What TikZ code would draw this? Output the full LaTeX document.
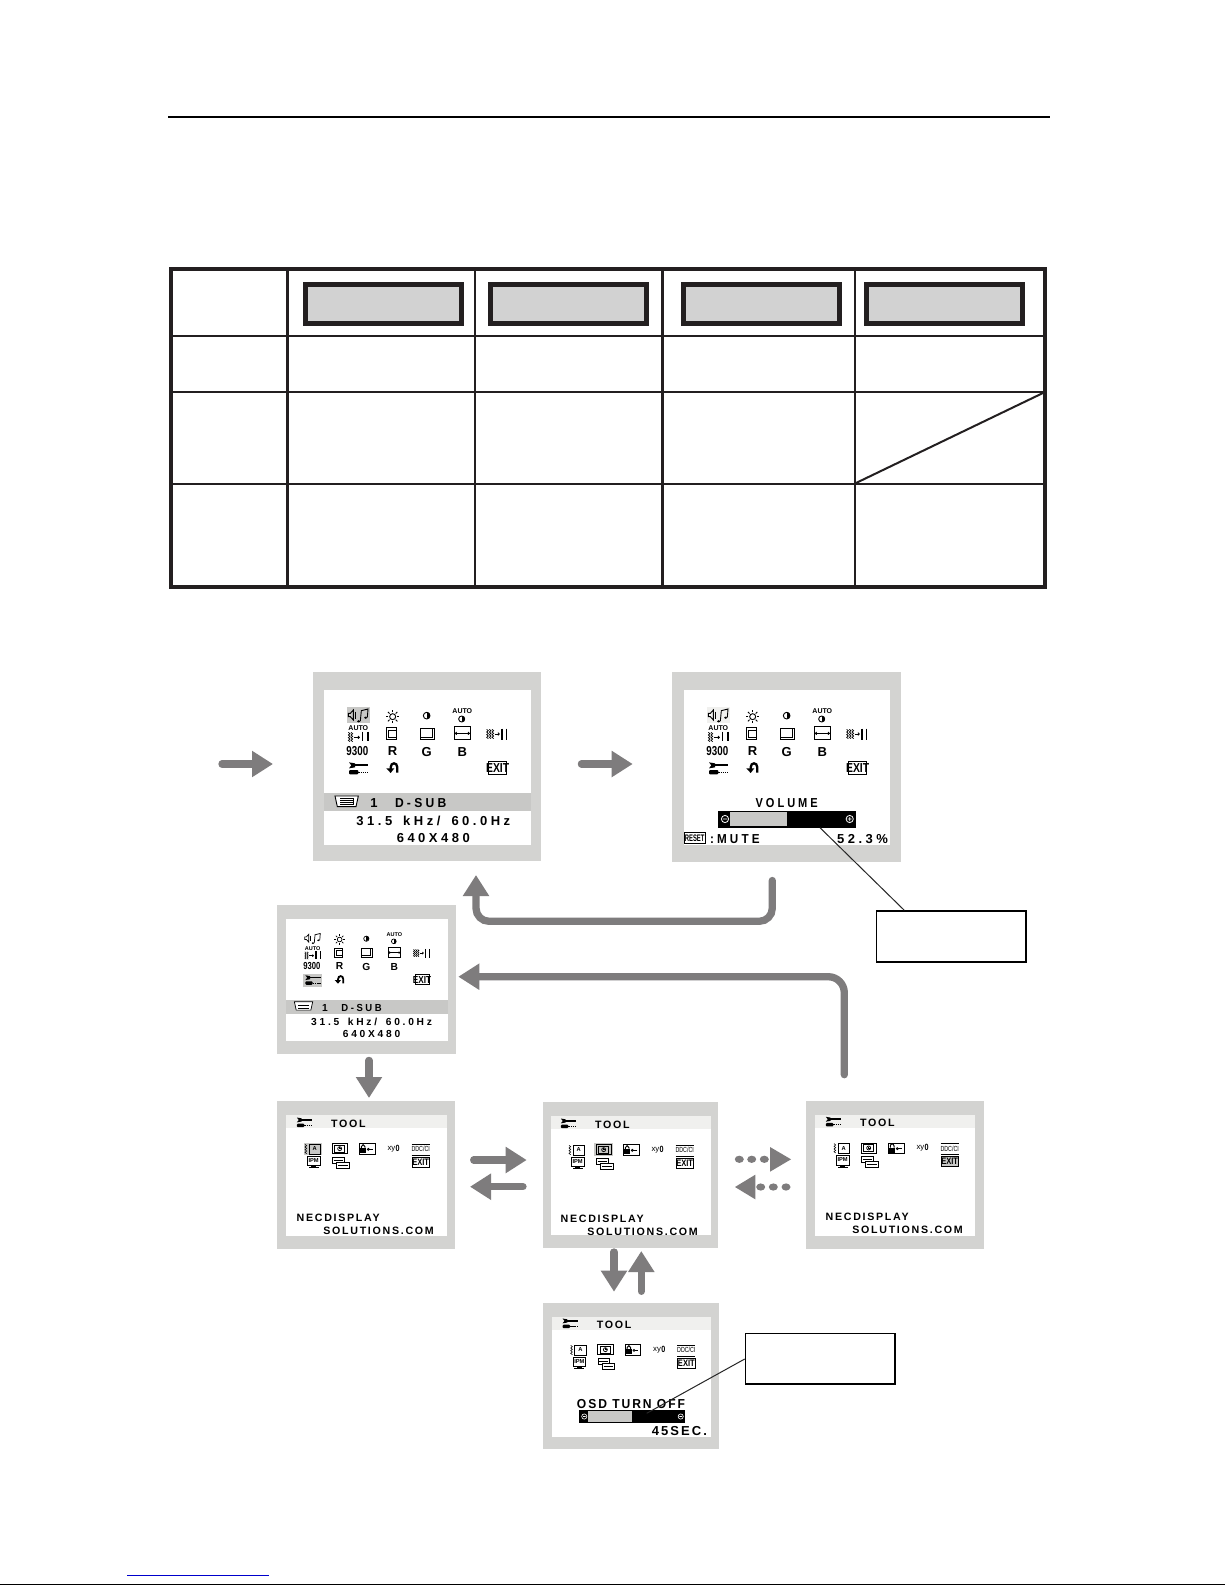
\documentclass[tikz,border=0pt]{standalone}
\usepackage{fontspec}
\usetikzlibrary{arrows.meta}
\setmainfont{Liberation Sans}
\newfontfamily\osdw[LetterSpace=27]{Liberation Sans}
\newfontfamily\osdn[LetterSpace=16]{Liberation Sans}
\newfontfamily\osdp{Liberation Sans}
\definecolor{ink}{HTML}{231F20}
\definecolor{arr}{HTML}{7E7C7D}
\definecolor{pgrey}{HTML}{D3D3D1}
\definecolor{hgrey}{HTML}{C8C8C6}
\definecolor{lbar}{HTML}{F0F0EE}
\definecolor{boxgrey}{HTML}{D2D2D2}
\newcount\nodecnt
\def\curs{1}
\tikzset{
  autoname/.style={/utils/exec={\global\advance\nodecnt by 1},name=n\the\nodecnt},
  txt/.style={autoname,inner sep=0pt,outer sep=0pt,text=black,scale=\curs},
  osdwide/.style={txt,font=\osdw\bfseries\fontsize{13}{13}\selectfont},
  osdnarrow/.style={txt,font=\osdn\bfseries\fontsize{13}{13}\selectfont},
  osdplain/.style={txt,font=\osdp\bfseries\fontsize{13}{13}\selectfont},
  osdtiny/.style={txt,font=\osdp\bfseries\fontsize{7}{7}\selectfont},
  ln/.style={line width=\curs*0.9pt,draw=black},
  panel/.style={fill=pgrey,draw=none,inner sep=0pt,outer sep=0pt,anchor=north west},
  screen/.style={fill=white,draw=none,inner sep=0pt,outer sep=0pt,anchor=north west},
  block/.style={draw=arr,line width=7.3pt,line cap=round,-{Triangle[length=21pt,width=25pt,fill=arr]}},
  headonly/.style={fill=arr,draw=none},
  callout/.style={draw=black,line width=1.6pt,fill=white,inner sep=0pt,outer sep=0pt,anchor=north west},
  leader/.style={draw=black!85,line width=1pt},
  headbox/.style={draw=ink,line width=5pt,fill=boxgrey,inner sep=0pt,outer sep=0pt,anchor=north west,minimum width=156pt,minimum height=39pt},
  tline/.style={draw=ink}
}
\newcommand\wig[3]{\draw[ln,line width=\curs*0.7pt] (#1,#2) -- ++(5,4) -- ++(-5,4) -- ++(5,4) -- ++(-5,4) -- ++(5,4) -- ++(-5,4) -- ++(5,4);}
\newcommand\wrenchic[2]{\begin{scope}[shift={#1},scale=#2]
  \fill (-12,-12) rectangle (30,-6);
  \fill (-28,-18) -- (-10,-15) -- (-10,-3) -- (-28,0) -- (-21,-9) -- cycle;
  \fill[rounded corners=1pt] (-28,5) rectangle (0,18);
  \draw[line width=\curs*1.2pt,dash pattern=on 1.5pt off 0.7pt] (0,12) -- (30,12);
\end{scope}}
\newcommand\contrastic[3]{\draw[ln] (#1,#2) circle (#3);
  \fill (#1,{#2-#3}) .. controls ({#1+1.33*#3},{#2-#3}) and ({#1+1.33*#3},{#2+#3}) .. (#1,{#2+#3}) -- cycle;}
\newcommand\mainicons[4]{\begin{scope}[shift={(#1,#2)}]
  \def\curs{#3}\pgfmathsetmacro\curu{#3/3}
  \begin{scope}[x=\curu pt,y=-\curu pt]
  #4
  % speaker + notes
  \draw[ln] (145,160) -- (151,160) -- (160,150) -- (160,180) -- (151,170) -- (145,170) -- cycle;
  \draw[ln] (167,155) -- (167,176);
  \draw[ln] (181,183) -- (184,152) -- (204,147) -- (202,172);
  \fill (176,184) ellipse (5 and 3.5);
  \fill (197,173) ellipse (5 and 3.5);
  % sun
  \draw[ln] (278,170) circle (9);
  \foreach \a in {0,45,...,315}{\draw[ln] (278,170) ++(\a:13) -- ++(\a:7);}
  % contrast
  \contrastic{380}{167}{10}
  \node[osdtiny] at (487,153) {AUTO};
  \contrastic{485}{177}{9}
  % row 2
  \node[osdtiny] at (175,205) {AUTO};
  \wig{145}{217}{0}\wig{153}{217}{0}
  \draw[ln] (161,232) -- (178,232); \draw[ln] (174,228) -- (178,232) -- (174,236);
  \draw[line width=\curs*1.6pt] (188,215) -- (188,243) (204,215) -- (204,243);
  \draw[ln] (258,203) rectangle (290,238);
  \draw[ln] (266,211) rectangle (290,232);
  \draw[ln] (360,204) rectangle (403,238);
  \draw[ln] (360,232) -- (397,232) -- (397,204);
  \draw[ln] (464,200) rectangle (510,238);
  \draw[ln] (464,220) -- (510,220);
  \draw[ln] (470,216) -- (466,220) -- (470,224) (504,216) -- (508,220) -- (504,224);
  \wig{560}{208}{0}\wig{568}{208}{0}\wig{576}{208}{0}
  \draw[ln] (584,222) -- (598,222); \draw[ln] (594,218) -- (598,222) -- (594,226);
  \draw[line width=\curs*1.6pt] (606,206) -- (606,240) (620,206) -- (620,240);
  % row 3
  \node[osdplain,xscale=0.75] at (172,273) {9300};
  \node[osdplain] at (278,273) {R};
  \node[osdplain] at (380,275) {G};
  \node[osdplain] at (487,275) {B};
  % row 4
  \wrenchic{(175,325)}{1}
  \draw[line width=\curs*2.3pt] (292,338) -- (292,322) .. controls (292,306) and (272,306) .. (272,322) -- (272,327);
  \fill (259,325) -- (283,325) -- (272,339) -- cycle;
  \draw[ln] (566,305) rectangle (620,342);
  \node[osdplain,xscale=0.8] at (593,324) {EXIT};
  \end{scope}
\end{scope}}
\newcommand\dsubinfo[3]{\begin{scope}[shift={(#1,#2)}]
  \def\curs{#3}\pgfmathsetmacro\curu{#3/3}
  \begin{scope}[x=\curu pt,y=-\curu pt]
  \draw[ln,fill=white] (105,408) -- (175,408) -- (168,440) -- (112,440) -- cycle;
  \fill[black] (119,415) rectangle (161,434);
  \foreach \yy in {419,424,429}{\draw[white,line width=\curs*0.5pt] (120,\yy) -- (160,\yy);}
  \node[osdwide] at (222,430) {1};
  \node[osdwide,anchor=west,xscale=0.93] at (285,430) {D-SUB};
  \node[osdwide] at (400,484) {31.5\hspace{11pt}kHz/\hspace{11pt}60.0Hz};
  \node[osdwide] at (400,533) {640X480};
  \end{scope}
\end{scope}}
\newcommand\toolicons[5]{\begin{scope}[shift={(#1,#2)}]
  \def\curs{0.82}\pgfmathsetmacro\curu{1/3}
  \begin{scope}[x=\curu pt,y=-\curu pt]
  #3
  \wrenchic{(103,82)}{0.8}
  \node[osdnarrow] at (235,85) {TOOL};
  % wave + AB
  \wig{105}{148}{0}
  \draw[ln] (117,147) rectangle (152,177);
  \node[osdtiny] at (134,162) {A};
  % clock
  \draw[ln] (186,146) rectangle (232,176);
  \draw[ln] (194,151) rectangle (224,171);
  \draw[ln] (209,161) circle (6);
  \draw[ln,line width=\curs*0.5pt] (209,157) -- (209,161) -- (213,161);
  % lock
  \draw[ln] (268,146) rectangle (315,178);
  \fill (271,160) rectangle (288,175);
  \draw[line width=\curs*1.2pt] (274,160) -- (274,155) .. controls (274,147) and (285,147) .. (285,155) -- (285,160);
  \draw[ln] (295,163) circle (3); \draw[ln] (298,163) -- (308,163);
  % xy0
  \node[txt,font=\osdp\fontsize{9.5}{9.5}\selectfont,anchor=east] at (376,162) {xy};
  \node[txt,font=\osdp\bfseries\fontsize{11}{11}\selectfont,xscale=0.8,anchor=west] at (377,160) {0};
  % DDC/CI
  \draw[ln] (425,147) -- (479,147) (425,180) -- (479,180);
  \node[osdplain,font=\osdp\fontsize{9}{9}\selectfont,xscale=0.72] at (452,163) {DDC/CI};
  % monitor
  \draw[ln,fill=white] (112,183) rectangle (150,212);
  \node[osdtiny] at (131,197) {IPM};
  \fill (124,212) rectangle (138,217); \fill (116,217) rectangle (146,220);
  % position
  \draw[ln] (187,186) rectangle (222,205);
  \draw[ln,fill=white] (200,201) rectangle (237,220);
  \draw[ln,line width=\curs*0.5pt] (191,195) -- (218,195) (204,211) -- (233,211);
  % exit
  \draw[ln,fill=#4] (426,187) rectangle (478,217);
  \node[osdplain,font=\osdp\bfseries\fontsize{11.5}{11.5}\selectfont,xscale=0.8] at (452,202) {EXIT};
  #5
  \end{scope}
\end{scope}}
\newcommand\necfoot{\node[osdnarrow,anchor=west] at (80,367) {NECDISPLAY};
  \node[osdnarrow,anchor=west] at (160,407) {SOLUTIONS.COM};}
\begin{document}
\begin{tikzpicture}[x=1pt,y=-1pt]
\useasboundingbox (0,0) rectangle (1225,1585);
\fill[white] (0,0) rectangle (1225,1585);
% page furniture
\draw[draw=black,line width=1.8pt] (168,116.7) -- (1050,116.7);
\draw[draw=blue!80!black,line width=1pt] (127,1575) -- (269,1575);
\draw[draw=black,line width=1pt] (0,1584.5) -- (1225,1584.5);
% table
\draw[tline,line width=2pt] (171,336) -- (1045,336) (171,392) -- (1045,392) (171,484) -- (1045,484);
\draw[tline,line width=2.6pt] (287.3,269) -- (287.3,587);
\draw[tline,line width=1.6pt] (475,269) -- (475,587);
\draw[tline,line width=2.8pt] (662.8,269) -- (662.8,587);
\draw[tline,line width=1.8pt] (855,269) -- (855,587);
\draw[tline,line width=2pt] (856,483) -- (1044,392.5);
\draw[tline,line width=3.9pt] (171,269) rectangle (1045,587);
\node[headbox] (h1) at (305.5,284.5) {};
\node[headbox] (h2) at (490.5,284.5) {};
\node[headbox] (h3) at (683.5,284.5) {};
\node[headbox] (h4) at (866.5,284.5) {};
% panels
\node[panel,minimum width=228pt,minimum height=188.5pt] (pA) at (313,672.3) {};
\node[screen,minimum width=207pt,minimum height=155pt] (sA) at (324,690) {};
\fill[hgrey] (324,793.3) rectangle (531,811);
\node[panel,minimum width=228.5pt,minimum height=189.5pt] (pB) at (672.3,672.3) {};
\node[screen,minimum width=206pt,minimum height=155pt] (sB) at (684,690) {};
\node[panel,minimum width=179.3pt,minimum height=149pt] (pC) at (276.7,905) {};
\node[screen,minimum width=162.6pt,minimum height=121.7pt] (sC) at (285.7,919) {};
\fill[hgrey] (285.7,1000) rectangle (448.3,1014);
\node[panel,minimum width=178.3pt,minimum height=148pt] (pD) at (276.7,1101) {};
\node[screen,minimum width=161.3pt,minimum height=120.7pt] (sD) at (286,1115) {};
\fill[lbar] (286,1115) rectangle (447.3,1128.3);
\node[panel,minimum width=175.6pt,minimum height=146pt] (pE) at (542.7,1102.3) {};
\node[screen,minimum width=159.7pt,minimum height=119.3pt] (sE) at (551,1115.7) {};
\fill[lbar] (551,1115.7) rectangle (710.7,1128.5);
\node[panel,minimum width=178pt,minimum height=148pt] (pF) at (806,1101) {};
\node[screen,minimum width=160pt,minimum height=120.7pt] (sF) at (815,1115) {};
\fill[lbar] (815,1115) rectangle (975,1128);
\node[panel,minimum width=176.6pt,minimum height=145.7pt] (pG) at (542.7,1303.3) {};
\node[screen,minimum width=159.3pt,minimum height=119.4pt] (sG) at (552,1317.3) {};
\fill[lbar] (552,1317.3) rectangle (711.3,1330);
% panel contents
\mainicons{300}{660}{1}{\fill[hgrey] (141,142) rectangle (210,190);}
\dsubinfo{300}{660}{1}
\mainicons{660}{660}{1}{\fill[lbar] (141,142) rectangle (210,190);}
\mainicons{266.9}{895}{0.785}{\fill[hgrey] (138,300) rectangle (212,350);}
\dsubinfo{266.9}{895}{0.785}
\toolicons{270}{1095}{\fill[hgrey] (103,143) rectangle (155,180);}{white}{\necfoot}
\toolicons{534}{1096}{\fill[hgrey] (181,142) rectangle (236,180);}{white}{\necfoot}
\toolicons{799}{1094.3}{}{hgrey}{\necfoot}
\toolicons{535.7}{1296}{}{white}{}
% volume display
\node[osdwide,xscale=0.85] (voltxt) at (786.7,803.3) {VOLUME};
\node[fill=black,inner sep=0pt,outer sep=0pt,anchor=north west,minimum width=138pt,minimum height=17pt] (volbar) at (718,810.7) {};
\fill[hgrey] (730,812) rectangle (787,826.4);
\draw[white,fill=black,line width=0.8pt] (725,819) circle (3.6) (723,819) -- (727,819);
\draw[white,fill=black,line width=0.8pt] (849.7,819) circle (3.6) (847.7,819) -- (851.7,819) (849.7,817) -- (849.7,821);
\node[draw=black,line width=0.7pt,inner sep=0pt,minimum width=21pt,minimum height=11pt,font=\osdp\bfseries\fontsize{9.5}{9.5}\selectfont] (rst) at (694.7,838) {\scalebox{0.62}[1]{RESET}};
\node[osdwide,anchor=west,xscale=0.9] (mute) at (710,838.7) {:MUTE};
\node[osdwide,anchor=east] (pct) at (888,838.7) {52.3\%};
% OSD turn off display
\node[osdnarrow,xscale=0.93] (osdtxt) at (631,1404) {OSD TURN OFF};
\node[fill=black,inner sep=0pt,outer sep=0pt,anchor=north west,minimum width=106pt,minimum height=13pt] (osdbar) at (579,1410) {};
\fill[hgrey] (587.7,1411) rectangle (631.7,1422);
\draw[white,fill=black,line width=0.6pt] (584.3,1416.5) circle (2.6) (583,1416.5) -- (585.6,1416.5);
\draw[white,fill=black,line width=0.6pt] (680.7,1416.5) circle (2.6) (679.4,1416.5) -- (682,1416.5);
\node[osdnarrow,anchor=east] (secs) at (707,1431) {45SEC.};
% callouts
\node[callout,minimum width=149.4pt,minimum height=50.8pt] (cb1) at (876.5,911.1) {};
\node[callout,minimum width=149.4pt,minimum height=50.7pt] (cb2) at (745.5,1333.5) {};
\coordinate (volpt) at (820,827.7);
\coordinate (cb1top) at (904.3,910.3);
\coordinate (osdpt) at (646.7,1413.3);
\coordinate (cb2left) at (744.7,1359);
\draw[leader] (volpt) -- (cb1top);
\draw[leader] (osdpt) -- (cb2left);
% arrows
\coordinate (a1s) at (222,764); \coordinate (a1e) at (273,764);
\coordinate (a2s) at (581.4,764); \coordinate (a2e) at (632.7,764);
\draw[block] (a1s) -- (a1e);
\draw[block] (a2s) -- (a2e);
\coordinate (b1s) at (772.3,880.5); \coordinate (b1c) at (772.3,921.3); \coordinate (b1d) at (476,921.3); \coordinate (b1e) at (476,875);
\draw[block,rounded corners=13pt] (b1s) -- (b1c) -- (b1d) -- (b1e);
\coordinate (b2s) at (844.3,1074.7); \coordinate (b2c) at (844.3,976.7); \coordinate (b2e) at (458.3,976.7);
\draw[block,rounded corners=16pt] (b2s) -- (b2c) -- (b2e);
\coordinate (c1s) at (369,1060.4); \coordinate (c1e) at (369,1098);
\draw[block] (c1s) -- (c1e);
\coordinate (d1s) at (473.7,1160); \coordinate (d1e) at (526.7,1160);
\coordinate (d2s) at (523,1186.7); \coordinate (d2e) at (470,1186.7);
\draw[block] (d1s) -- (d1e);
\draw[block] (d2s) -- (d2e);
\coordinate (v1s) at (614,1252); \coordinate (v1e) at (614,1291.7);
\coordinate (v2s) at (641.3,1291.3); \coordinate (v2e) at (641.3,1251);
\draw[block] (v1s) -- (v1e);
\draw[block] (v2s) -- (v2e);
% dotted arrows
\foreach \dx in {739.3,751.7,764.3}{\fill[arr] (\dx,1159.3) ellipse (4.5 and 3.6);}
\fill[headonly] (770,1147) -- (791,1159.3) -- (770,1171.7) -- cycle;
\foreach \dx in {760.7,773.3,786}{\fill[arr] (\dx,1187) ellipse (4.5 and 3.6);}
\fill[headonly] (755.3,1174.7) -- (735,1187) -- (755.3,1199.3) -- cycle;
\end{tikzpicture}
\end{document}
